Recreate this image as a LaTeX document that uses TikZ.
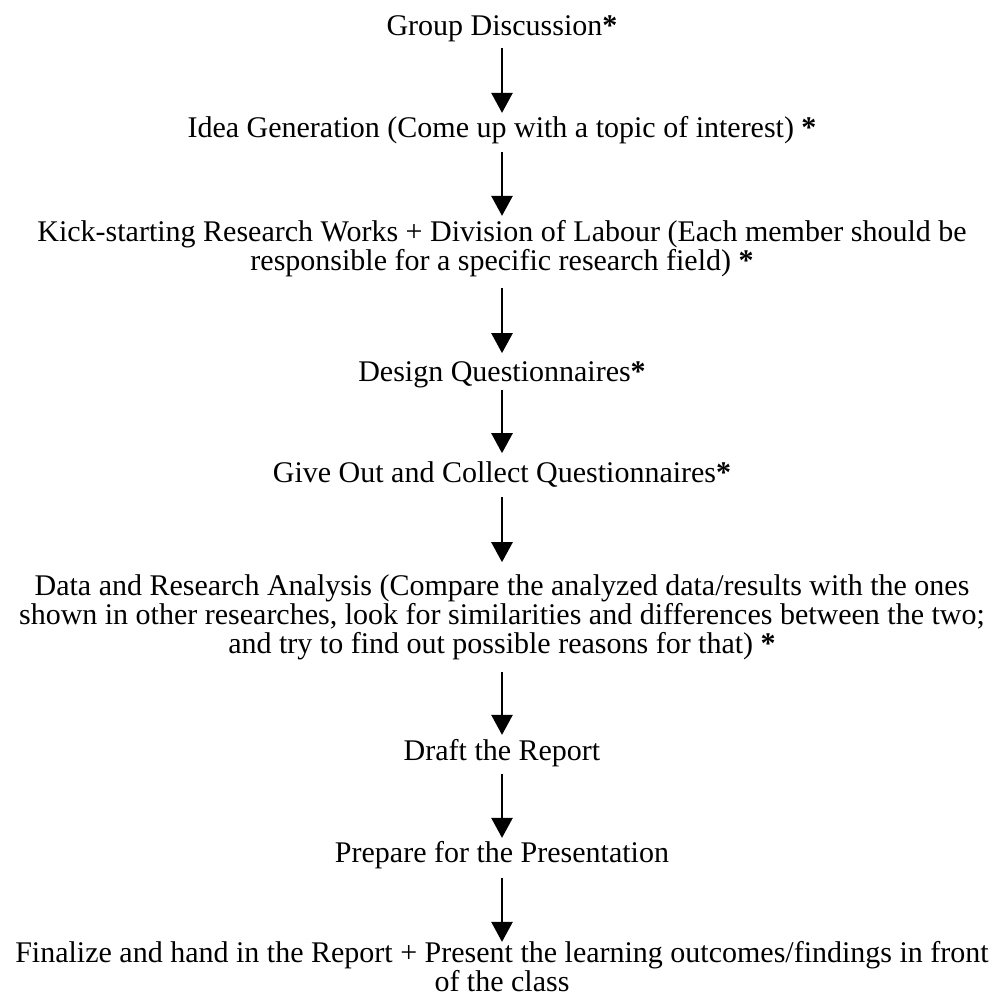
\documentclass[tikz,border=0pt]{standalone}
\usepackage{fontspec}
\setmainfont{Liberation Serif}
\usetikzlibrary{arrows.meta}
\newcommand{\mystrut}{\rule[-7pt]{0pt}{21pt}}
\newcommand{\bstar}{\textbf{*}}
\begin{document}
\begin{tikzpicture}[x=1pt,y=-1pt,
  lbl/.style={anchor=base, inner sep=0pt, outer sep=0pt, align=center,
    font=\fontsize{30}{29}\selectfont},
  arr/.style={line width=2.6pt, -{Triangle[width=21pt,length=20pt]}}]
\useasboundingbox (0,0) rectangle (992,1007);
\node[lbl] (n1) at (502,35)  {\mystrut Group Discussion\bstar};
\node[lbl] (n2) at (502,137) {\mystrut Idea Generation (Come up with a topic of interest) \bstar};
\node[lbl] (n3) at (502,270) {\mystrut Kick-starting Research Works + Division of Labour (Each member should be\\
  responsible for a specific research field) \bstar\mystrut};
\node[lbl] (n4) at (502,381) {\mystrut Design Questionnaires\bstar};
\node[lbl] (n5) at (502,482) {\mystrut Give Out and Collect Questionnaires\bstar};
\node[lbl] (n6) at (502,653) {\mystrut Data and Research Analysis (Compare the analyzed data/results with the ones\\
  shown in other researches, look for similarities and differences between the two;\\
  and try to find out possible reasons for that) \bstar\mystrut};
\node[lbl] (n7) at (502,760) {\mystrut Draft the Report};
\node[lbl] (n8) at (502,862) {\mystrut Prepare for the Presentation};
\node[lbl] (n9) at (502,991) {\mystrut Finalize and hand in the Report + Present the learning outcomes/findings in front\\
  of the class\mystrut};
\draw[arr] ([yshift=-6pt]n1.south) -- ([yshift=3pt]n2.north);
\draw[arr] ([yshift=-8pt]n2.south) -- ([yshift=4pt]n3.north);
\draw[arr] ([yshift=-11pt]n3.south) -- ([yshift=8pt]n4.north);
\draw[arr] ([yshift=-2pt]n4.south) -- ([yshift=8pt]n5.north);
\draw[arr] ([yshift=-8pt]n5.south) -- ([yshift=12pt]n6.north);
\draw[arr] ([yshift=-12pt]n6.south) -- ([yshift=4pt]n7.north);
\draw[arr] ([yshift=-7pt]n7.south) -- ([yshift=3pt]n8.north);
\draw[arr] ([yshift=-9pt]n8.south) -- ([yshift=-1pt]n9.north);
\end{tikzpicture}
\end{document}
